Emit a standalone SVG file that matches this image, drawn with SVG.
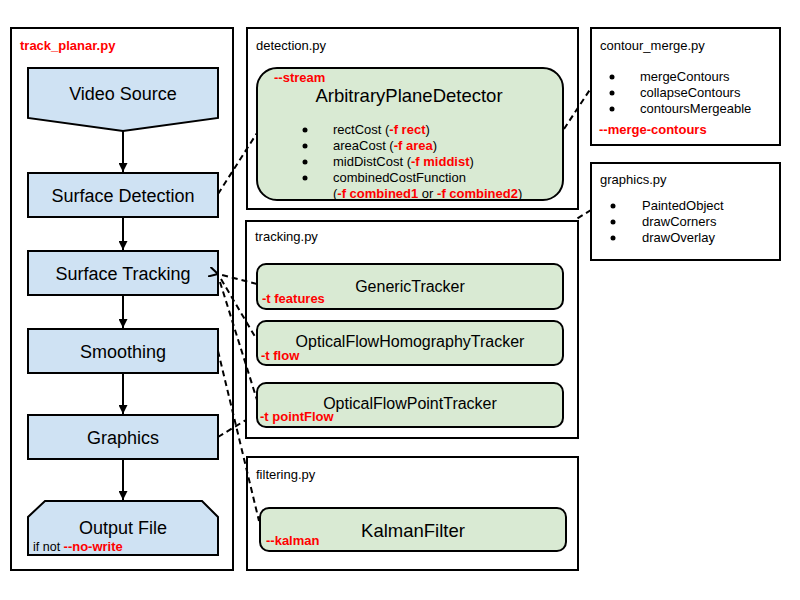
<svg xmlns="http://www.w3.org/2000/svg" width="800" height="600" viewBox="0 0 800 600">
<style>
  text { font-family: "Liberation Sans", Arial, sans-serif; fill: #000; }
  .box { fill: #fff; stroke: #000; stroke-width: 2; }
  .node { fill: #cfe2f3; stroke: #000; stroke-width: 2; }
  .cls { fill: #d9ead3; stroke: #000; stroke-width: 2; }
  .lbl { font-size: 18px; text-anchor: middle; }
  .big { font-size: 18.5px; text-anchor: middle; }
  .trk { font-size: 16px; text-anchor: middle; }
  .sm { font-size: 13px; }
  .red { fill: #ff0000; font-weight: bold; font-size: 13px; }
  .flow { stroke: #000; stroke-width: 2; fill: none; marker-end: url(#arr); }
  .dash { stroke: #000; stroke-width: 2; fill: none; stroke-dasharray: 6 4; }
</style>
<defs>
  <marker id="arr" viewBox="0 0 10 10" refX="10" refY="5" markerWidth="4.5" markerHeight="4.5" orient="auto" markerUnits="strokeWidth">
    <path d="M0,0 L10,5 L0,10 Z" fill="#000"/>
  </marker>
  <marker id="open" viewBox="0 0 10 10" refX="1" refY="5" markerWidth="5" markerHeight="5" orient="auto-start-reverse" markerUnits="strokeWidth">
    <path d="M10,0 L1,5 L10,10" fill="none" stroke="#000" stroke-width="2"/>
  </marker>
</defs>
<rect width="800" height="600" fill="#fff"/>

<g id="track_planar">
  <rect class="box" x="11" y="28" width="222" height="542"/>
  <text class="red" x="20" y="50">track_planar.py</text>
</g>

<g id="video_source">
  <polygon class="node" points="28,68 218,68 218,118 123,131 28,118"/>
  <text class="lbl" x="123" y="100">Video Source</text>
</g>
<g id="surface_detection">
  <rect class="node" x="28" y="173" width="190" height="44"/>
  <text class="lbl" x="123" y="202">Surface Detection</text>
</g>
<g id="surface_tracking">
  <rect class="node" x="28" y="251" width="190" height="44"/>
  <text class="lbl" x="123" y="280">Surface Tracking</text>
</g>
<g id="smoothing">
  <rect class="node" x="28" y="329" width="190" height="44"/>
  <text class="lbl" x="123" y="358">Smoothing</text>
</g>
<g id="graphics">
  <rect class="node" x="28" y="415" width="190" height="44"/>
  <text class="lbl" x="123" y="444">Graphics</text>
</g>
<g id="output_file">
  <polygon class="node" points="28,555 28,517 45,501 202,501 218,517 218,555"/>
  <text class="lbl" x="123" y="534">Output File</text>
  <text class="sm" x="33" y="551" style="font-size:12.5px">if not <tspan class="red">--no-write</tspan></text>
</g>

<g id="graphics_py">
  <rect class="box" x="591" y="163" width="189" height="97"/>
  <text class="sm" x="600" y="184">graphics.py</text>
  <circle cx="613" cy="206" r="2.5"/>
  <circle cx="613" cy="222" r="2.5"/>
  <circle cx="613" cy="238" r="2.5"/>
  <text class="sm" x="642" y="210">PaintedObject</text>
  <text class="sm" x="642" y="226">drawCorners</text>
  <text class="sm" x="642" y="242">drawOverlay</text>
</g>

<g id="connectors">
  <line class="flow" x1="123" y1="131" x2="123" y2="172"/>
  <line class="flow" x1="123" y1="217" x2="123" y2="250"/>
  <line class="flow" x1="123" y1="295" x2="123" y2="328"/>
  <line class="flow" x1="123" y1="373" x2="123" y2="414"/>
  <line class="flow" x1="123" y1="459" x2="123" y2="500"/>
  <line class="dash" x1="218" y1="194" x2="257" y2="133"/>
  <line class="dash" x1="564" y1="129" x2="591" y2="88"/>
  <path class="dash" d="M218,437 L245.5,420.3 M577.5,218.3 L591,210"/>
  <line class="dash" x1="257" y1="284" x2="218" y2="274" marker-end="url(#open)"/>
  <line class="dash" x1="221" y1="279" x2="257" y2="340"/>
  <line class="dash" x1="220" y1="282" x2="257" y2="400"/>
  <line class="dash" x1="218" y1="351" x2="259" y2="521"/>
</g>

<g id="detection_py">
  <rect class="box" x="247" y="28" width="331" height="181" style="fill:none"/>
  <text class="sm" x="256" y="50">detection.py</text>
</g>
<g id="arbitrary_plane_detector">
  <rect class="cls" x="257" y="68" width="306" height="132" rx="20"/>
  <text class="red" x="274" y="82">--stream</text>
  <text class="big" x="409" y="102">ArbitraryPlaneDetector</text>
  <circle cx="305" cy="130" r="2.5"/>
  <circle cx="305" cy="146" r="2.5"/>
  <circle cx="305" cy="162" r="2.5"/>
  <circle cx="305" cy="178" r="2.5"/>
  <text class="sm" x="333" y="134">rectCost (<tspan class="red">-f rect</tspan>)</text>
  <text class="sm" x="333" y="150">areaCost (<tspan class="red">-f area</tspan>)</text>
  <text class="sm" x="333" y="166">midDistCost (<tspan class="red">-f middist</tspan>)</text>
  <text class="sm" x="333" y="182">combinedCostFunction</text>
  <text class="sm" x="333" y="198">(<tspan class="red">-f combined1</tspan> or <tspan class="red">-f combined2</tspan>)</text>
</g>

<g id="contour_merge_py">
  <rect class="box" x="591" y="28" width="189" height="117"/>
  <text class="sm" x="600" y="50">contour_merge.py</text>
  <circle cx="612" cy="77" r="2.5"/>
  <circle cx="612" cy="93" r="2.5"/>
  <circle cx="612" cy="109" r="2.5"/>
  <text class="sm" x="640" y="81">mergeContours</text>
  <text class="sm" x="640" y="97">collapseContours</text>
  <text class="sm" x="640" y="113">contoursMergeable</text>
  <text class="red" x="599" y="134">--merge-contours</text>
</g>

<g id="tracking_py">
  <rect class="box" x="246" y="221" width="332" height="217" style="fill:none"/>
  <text class="sm" x="255" y="241">tracking.py</text>
</g>
<g id="generic_tracker">
  <rect class="cls" x="257" y="264" width="306" height="45" rx="9"/>
  <text class="trk" x="410" y="292">GenericTracker</text>
  <text class="red" x="262" y="303">-t features</text>
</g>
<g id="optical_flow_homography_tracker">
  <rect class="cls" x="257" y="321" width="306" height="44" rx="9"/>
  <text class="trk" x="410" y="347">OpticalFlowHomographyTracker</text>
  <text class="red" x="261" y="360">-t flow</text>
</g>
<g id="optical_flow_point_tracker">
  <rect class="cls" x="257" y="383" width="306" height="44" rx="9"/>
  <text class="trk" x="410" y="409">OpticalFlowPointTracker</text>
  <text class="red" x="260" y="421">-t pointFlow</text>
</g>

<g id="filtering_py">
  <rect class="box" x="247" y="457" width="331" height="113" style="fill:none"/>
  <text class="sm" x="256" y="479">filtering.py</text>
</g>
<g id="kalman_filter">
  <rect class="cls" x="260" y="508" width="306" height="43" rx="9"/>
  <text class="big" x="413" y="537">KalmanFilter</text>
  <text class="red" x="266" y="545">--kalman</text>
</g>
</svg>
